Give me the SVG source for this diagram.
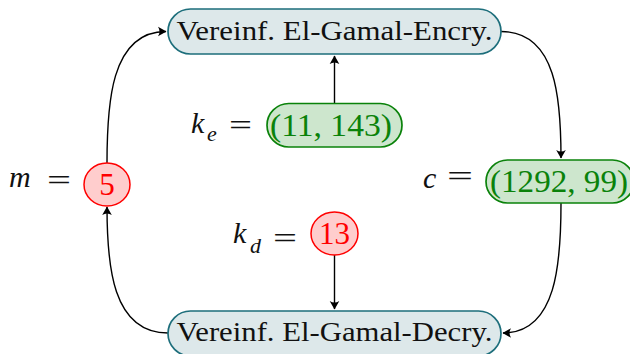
<svg xmlns="http://www.w3.org/2000/svg" width="630" height="354" viewBox="0 0 630 354">
<defs>
<marker id="arr" markerUnits="userSpaceOnUse" markerWidth="14" markerHeight="14" viewBox="-10 -7 14 14" refX="0" refY="0" orient="auto">
<path d="M0.5,0 L-8,-4.8 Q-5,0 -8,4.8 Z" fill="#000"/>
</marker>
<style>
.proc{fill:#dde8ea;stroke:#1d6e7b;stroke-width:1.7}
.val{fill:#cde6cd;stroke:#0a820a;stroke-width:1.7}
.key{fill:#ffcdcd;stroke:#ff0000;stroke-width:1.5}
.ptxt{font-family:"Liberation Serif","DejaVu Serif",serif;font-size:28px;fill:#111;text-anchor:middle}
.gtxt{font-family:"Liberation Serif","DejaVu Serif",serif;font-size:31px;fill:#0a820a;text-anchor:middle}
.rtxt{font-family:"Liberation Serif","DejaVu Serif",serif;font-size:31px;fill:#ff0000;text-anchor:middle}
.lbl{font-family:"Liberation Serif","DejaVu Serif",serif;font-size:30px;fill:#111;font-style:italic}
.sub{font-family:"Liberation Serif","DejaVu Serif",serif;font-size:22px;fill:#111;font-style:italic}
.eq{font-family:"Liberation Serif","DejaVu Serif",serif;font-size:30px;fill:#111}
.conn{fill:none;stroke:#000;stroke-width:1.4;marker-end:url(#arr)}
</style>
</defs>
<g id="connectors">
<path class="conn" d="M107,163 C107,106 110,31.5 166,31.5"/>
<path class="conn" d="M501,31.5 C557,31.5 561,100 561,158"/>
<path class="conn" d="M561,203 C561,262 557,333 503,333"/>
<path class="conn" d="M168,333 C112,333 107,265 107,207"/>
<path class="conn" d="M334.5,103 L334.5,56"/>
<path class="conn" d="M334.5,255 L334.5,309"/>
</g>
<g id="encrypt">
<rect class="proc" x="168" y="9" width="333" height="45" rx="22.5"/>
<text class="ptxt" x="334.5" y="40" textLength="316" lengthAdjust="spacingAndGlyphs">Vereinf. El-Gamal-Encry.</text>
</g>
<g id="decrypt">
<rect class="proc" x="168" y="311" width="333" height="45" rx="22.5"/>
<text class="ptxt" x="334.5" y="341" textLength="316" lengthAdjust="spacingAndGlyphs">Vereinf. El-Gamal-Decry.</text>
</g>
<g id="ke">
<rect class="val" x="267" y="103.5" width="135" height="43.5" rx="21.75"/>
<text class="gtxt" x="331" y="136" textLength="122" lengthAdjust="spacingAndGlyphs">(11, 143)</text>
<text class="lbl" x="191" y="133">k</text>
<text class="sub" x="207" y="141">e</text>
<text class="eq" x="229" y="135" textLength="23" lengthAdjust="spacingAndGlyphs">=</text>
</g>
<g id="c">
<rect class="val" x="486" y="160" width="148" height="43" rx="21.5"/>
<text class="gtxt" x="559" y="192" textLength="138" lengthAdjust="spacingAndGlyphs">(1292, 99)</text>
<text class="lbl" x="423" y="188">c</text>
<text class="eq" x="447" y="186" textLength="26" lengthAdjust="spacingAndGlyphs">=</text>
</g>
<g id="m">
<ellipse class="key" cx="107" cy="184.5" rx="23" ry="21.5"/>
<text class="rtxt" x="107" y="195">5</text>
<text class="lbl" x="9" y="187">m</text>
<text class="eq" x="47" y="190" textLength="24" lengthAdjust="spacingAndGlyphs">=</text>
</g>
<g id="kd">
<ellipse class="key" cx="334.5" cy="233.5" rx="23.5" ry="21.5"/>
<text class="rtxt" x="334.5" y="244">13</text>
<text class="lbl" x="233" y="243">k</text>
<text class="sub" x="250" y="253">d</text>
<text class="eq" x="273" y="248" textLength="24" lengthAdjust="spacingAndGlyphs">=</text>
</g>
</svg>
